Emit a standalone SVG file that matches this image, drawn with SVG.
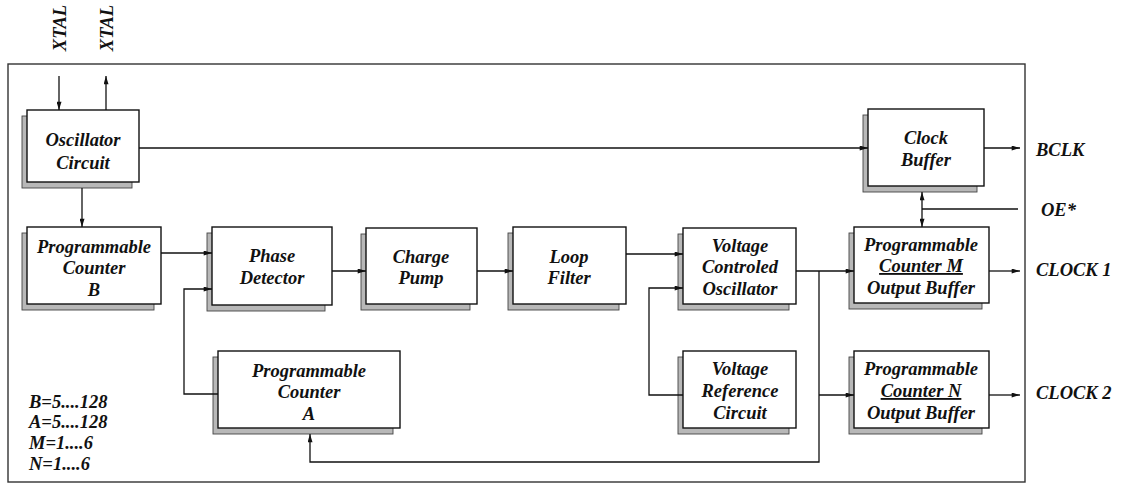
<svg xmlns="http://www.w3.org/2000/svg" width="1128" height="490" viewBox="0 0 1128 490">
<style>
text{font-family:"Liberation Serif","Times New Roman",serif;font-weight:bold;font-style:italic;font-size:18.5px;fill:#111}
.c{text-anchor:middle}
.box{fill:#fff;stroke:#111;stroke-width:1.4}
.sh{fill:#b8b8b8;stroke:#444;stroke-width:0.9}
.ln{fill:none;stroke:#111;stroke-width:1.3}
.u{text-decoration:underline}
</style>
<defs>
<marker id="ah" viewBox="0 0 10 6" refX="10" refY="3" markerWidth="9" markerHeight="5" orient="auto-start-reverse" markerUnits="userSpaceOnUse"><path d="M0,0 L10,3 L0,6 z" fill="#111"/></marker>
</defs>
<rect x="8" y="64" width="1017" height="418" fill="none" stroke="#333" stroke-width="1.4"/>
<g id="xtal-labels">
<text class="c" transform="translate(66,28) rotate(-90)">XTAL</text>
<text class="c" transform="translate(113,28) rotate(-90)">XTAL</text>
</g>
<g id="osc"><rect class="sh" x="22" y="116" width="110" height="72"/><rect class="box" x="27" y="110" width="112" height="72"/>
<text class="c" x="83" y="146">Oscillator</text><text class="c" x="83" y="169">Circuit</text></g>
<g id="pcb"><rect class="sh" x="22" y="233" width="132" height="77"/><rect class="box" x="27" y="227" width="134" height="77"/>
<text class="c" x="94" y="253">Programmable</text><text class="c" x="94" y="274">Counter</text><text class="c" x="94" y="296">B</text></g>
<g id="pd"><rect class="sh" x="207" y="233" width="118" height="78"/><rect class="box" x="212" y="227" width="120" height="78"/>
<text class="c" x="272" y="262">Phase</text><text class="c" x="272" y="284">Detector</text></g>
<g id="cp"><rect class="sh" x="361" y="234" width="109" height="76"/><rect class="box" x="366" y="228" width="111" height="76"/>
<text class="c" x="421" y="263">Charge</text><text class="c" x="421" y="284">Pump</text></g>
<g id="lf"><rect class="sh" x="508" y="233" width="111" height="77"/><rect class="box" x="513" y="227" width="113" height="77"/>
<text class="c" x="569" y="263">Loop</text><text class="c" x="569" y="284">Filter</text></g>
<g id="vco"><rect class="sh" x="678" y="234" width="111" height="76"/><rect class="box" x="683" y="228" width="113" height="76"/>
<text class="c" x="740" y="252">Voltage</text><text class="c" x="740" y="273">Controled</text><text class="c" x="740" y="295">Oscillator</text></g>
<g id="cb"><rect class="sh" x="863" y="115" width="114" height="77"/><rect class="box" x="868" y="109" width="116" height="77"/>
<text class="c" x="926" y="144">Clock</text><text class="c" x="926" y="166">Buffer</text></g>
<g id="pcm"><rect class="sh" x="849" y="233" width="133" height="76"/><rect class="box" x="854" y="227" width="135" height="76"/>
<text class="c" x="921" y="251">Programmable</text><text class="c u" x="921" y="272">Counter M</text><text class="c" x="921" y="294">Output Buffer</text></g>
<g id="pa"><rect class="sh" x="213" y="357" width="180" height="77"/><rect class="box" x="218" y="351" width="182" height="77"/>
<text class="c" x="309" y="377">Programmable</text><text class="c" x="309" y="398">Counter</text><text class="c" x="309" y="420">A</text></g>
<g id="vref"><rect class="sh" x="678" y="357" width="111" height="77"/><rect class="box" x="683" y="351" width="113" height="77"/>
<text class="c" x="740" y="375">Voltage</text><text class="c" x="740" y="397">Reference</text><text class="c" x="740" y="419">Circuit</text></g>
<g id="pcn"><rect class="sh" x="849" y="357" width="133" height="77"/><rect class="box" x="854" y="351" width="135" height="77"/>
<text class="c" x="921" y="375">Programmable</text><text class="c u" x="921" y="397">Counter N</text><text class="c" x="921" y="419">Output Buffer</text></g>
<g id="connectors">
<path class="ln" d="M59,76 V110" marker-end="url(#ah)"/>
<path class="ln" d="M106,110 V76" marker-end="url(#ah)"/>
<path class="ln" d="M139,148 H868" marker-end="url(#ah)"/>
<path class="ln" d="M82,188 V227" marker-end="url(#ah)"/>
<path class="ln" d="M161,253 H212" marker-end="url(#ah)"/>
<path class="ln" d="M218,394 H184 V289 H212" marker-end="url(#ah)"/>
<path class="ln" d="M332,271 H366" marker-end="url(#ah)"/>
<path class="ln" d="M477,271 H513" marker-end="url(#ah)"/>
<path class="ln" d="M626,254 H683" marker-end="url(#ah)"/>
<path class="ln" d="M683,395 H649 V288 H683" marker-end="url(#ah)"/>
<path class="ln" d="M796,271 H854" marker-end="url(#ah)"/>
<path class="ln" d="M819,271 V462 H310 V434" marker-end="url(#ah)"/>
<path class="ln" d="M819,395 H854" marker-end="url(#ah)"/>
<path class="ln" d="M922,192 V227" marker-start="url(#ah)" marker-end="url(#ah)"/>
<path class="ln" d="M922,209 H1018"/>
<path class="ln" d="M984,148 H1020" marker-end="url(#ah)"/>
<path class="ln" d="M989,271 H1020" marker-end="url(#ah)"/>
<path class="ln" d="M989,395 H1020" marker-end="url(#ah)"/>
</g>
<g id="outputs">
<text x="1036" y="156">BCLK</text>
<text x="1041" y="216">OE*</text>
<text x="1036" y="276">CLOCK 1</text>
<text x="1036" y="399">CLOCK 2</text>
</g>
<g id="legend">
<text x="29" y="408">B=5....128</text>
<text x="29" y="428">A=5....128</text>
<text x="29" y="449">M=1....6</text>
<text x="29" y="470">N=1....6</text>
</g>
</svg>
